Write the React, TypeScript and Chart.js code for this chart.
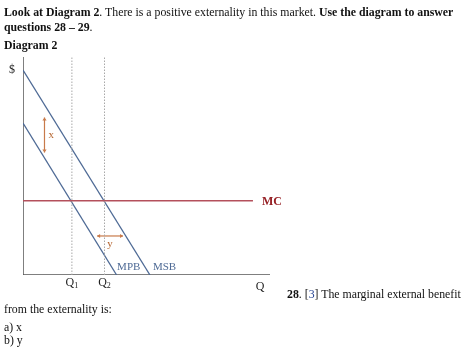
import React, { useEffect, useRef } from "react";
import { Chart, registerables } from "chart.js";

Chart.register(...registerables);

// ---- values (data units: 0..100 on both axes) ----
const msbIntercepts = [94.0, 51.4]; // [price intercept, quantity intercept]
const mpbIntercepts = [69.7, 37.9];
const mcLevel = 34.1;
const mcEnd = 93.1;
const quantityLabels = ["Q", "Q"];
const quantitySubs = ["1", "2"];
const quantityValues = [19.8, 33.0];
const xArrowX = [8.7, 8.7];
const xArrowY = [72.2, 56.2];
const yArrowX = [30.0, 40.5];
const yArrowY = [17.9, 17.9];

const BLUE = "#4e6a95";
const RED = "#b4505c";
const ORANGE = "#c87a4a";
const AXIS = "#555555";
const SERIF = "'Liberation Serif', 'Times New Roman', serif";

const labelPlugin = {
  id: "diagramLabels",
  afterDatasetsDraw(chart: any) {
    const { ctx } = chart;
    const xs = chart.scales.x;
    const ys = chart.scales.y;
    const px = (v: number) => xs.getPixelForValue(v);
    const py = (v: number) => ys.getPixelForValue(v);
    ctx.save();
    ctx.textBaseline = "middle";

    // $ label
    ctx.fillStyle = "#222";
    ctx.font = `12px ${SERIF}`;
    ctx.textAlign = "center";
    ctx.fillText("$", xs.left - 11, py(msbIntercepts[0]));

    // MC label
    ctx.fillStyle = "#962025";
    ctx.font = `bold 12px ${SERIF}`;
    ctx.textAlign = "left";
    ctx.fillText("MC", px(mcEnd) + 9, py(mcLevel) + 1);

    // MPB / MSB labels
    ctx.fillStyle = BLUE;
    ctx.font = `11px ${SERIF}`;
    ctx.fillText("MPB", px(mpbIntercepts[1]) + 0.5, py(0) - 8);
    ctx.fillText("MSB", px(msbIntercepts[1]) + 3, py(0) - 8);

    // Q labels
    ctx.fillStyle = "#222";
    quantityValues.forEach((q, i) => {
      ctx.font = `12px ${SERIF}`;
      const w = ctx.measureText(quantityLabels[i]).width;
      ctx.font = `8px ${SERIF}`;
      const sw = ctx.measureText(quantitySubs[i]).width;
      const start = px(q) - (w + sw) / 2;
      ctx.textAlign = "left";
      ctx.font = `12px ${SERIF}`;
      ctx.fillText(quantityLabels[i], start, py(0) + 8);
      ctx.font = `8px ${SERIF}`;
      ctx.fillText(quantitySubs[i], start + w, py(0) + 11);
    });
    ctx.font = `12px ${SERIF}`;
    ctx.textAlign = "center";
    ctx.fillText("Q", px(96), py(0) + 12);

    // arrow heads
    const head = (x: number, y: number, dx: number, dy: number) => {
      const s = 3;
      ctx.beginPath();
      ctx.moveTo(x, y);
      ctx.lineTo(x - dx * s - dy * s * 0.7, y - dy * s + dx * s * 0.7);
      ctx.lineTo(x - dx * s + dy * s * 0.7, y - dy * s - dx * s * 0.7);
      ctx.closePath();
      ctx.fill();
    };
    ctx.fillStyle = ORANGE;
    head(px(xArrowX[0]), py(xArrowY[0]), 0, -1);
    head(px(xArrowX[1]), py(xArrowY[1]), 0, 1);
    head(px(yArrowX[0]), py(yArrowY[0]), -1, 0);
    head(px(yArrowX[1]), py(yArrowY[1]), 1, 0);

    // x / y labels
    ctx.fillStyle = "#b5652f";
    ctx.font = `11px ${SERIF}`;
    ctx.textAlign = "left";
    ctx.fillText("x", px(xArrowX[0]) + 4, (py(xArrowY[0]) + py(xArrowY[1])) / 2);
    ctx.textAlign = "center";
    ctx.fillText("y", (px(yArrowX[0]) + px(yArrowX[1])) / 2, py(yArrowY[0]) + 8);

    ctx.restore();
  },
};

const seg = (x: number[], y: number[]) => x.map((v, i) => ({ x: v, y: y[i] }));

export default function App() {
  const ref = useRef<HTMLCanvasElement | null>(null);

  useEffect(() => {
    if (!ref.current) return;
    const line = (data: any[], color: string, width: number, dash: number[] = []) => ({
      data,
      showLine: true,
      borderColor: color,
      backgroundColor: color,
      borderWidth: width,
      borderDash: dash,
      pointRadius: 0,
      fill: false,
    });
    const chart = new Chart(ref.current, {
      type: "scatter",
      data: {
        datasets: [
          line(seg([quantityValues[0], quantityValues[0]], [0, 100]), "#a8a8a8", 1, [1.5, 1.5]),
          line(seg([quantityValues[1], quantityValues[1]], [0, 100]), "#a8a8a8", 1, [1.5, 1.5]),
          line(seg([0, mcEnd], [mcLevel, mcLevel]), RED, 1.5),
          line(seg([0, msbIntercepts[1]], [msbIntercepts[0], 0]), BLUE, 1.3),
          line(seg([0, mpbIntercepts[1]], [mpbIntercepts[0], 0]), BLUE, 1.3),
          line(seg(xArrowX, xArrowY), ORANGE, 1.2),
          line(seg(yArrowX, yArrowY), ORANGE, 1.2),
          line(seg([0, 0], [0, 100]), AXIS, 1.5),
          line(seg([0, 100], [0, 0]), AXIS, 1.5),
        ],
      },
      options: {
        responsive: false,
        animation: false,
        events: [],
        layout: { padding: { left: 23, top: 57, right: 204, bottom: 88 } },
        plugins: { legend: { display: false }, tooltip: { enabled: false } },
        scales: {
          x: { type: "linear", min: 0, max: 100, display: false },
          y: { type: "linear", min: 0, max: 100, display: false },
        },
      },
      plugins: [labelPlugin],
    });
    return () => chart.destroy();
  }, []);

  const text: React.CSSProperties = {
    position: "absolute",
    fontFamily: SERIF,
    fontSize: 11.8,
    lineHeight: "15px",
    color: "#111",
    whiteSpace: "nowrap",
    margin: 0,
  };

  return (
    <div style={{ position: "fixed", left: 0, top: 0, width: 474, height: 363, background: "#fff", overflow: "hidden" }}>
      <canvas ref={ref} width={474} height={363} style={{ position: "absolute", left: 0, top: 0, width: 474, height: 363 }} />
      <div style={{ ...text, left: 4, top: 5 }}>
        <b>Look at Diagram 2</b>. There is a positive externality in this market. <b>Use the diagram to answer</b>
      </div>
      <div style={{ ...text, left: 4, top: 20 }}>
        <b>questions 28 – 29</b>.
      </div>
      <div style={{ ...text, left: 4, top: 38 }}>
        <b>Diagram 2</b>
      </div>
      <div style={{ ...text, left: 287, top: 287 }}>
        <b>28</b>. [<span style={{ color: "#1d3c8f" }}>3</span>] The marginal external benefit
      </div>
      <div style={{ ...text, left: 4, top: 302 }}>from the externality is:</div>
      <div style={{ ...text, left: 4, top: 320 }}>a) x</div>
      <div style={{ ...text, left: 4, top: 333 }}>b) y</div>
    </div>
  );
}
